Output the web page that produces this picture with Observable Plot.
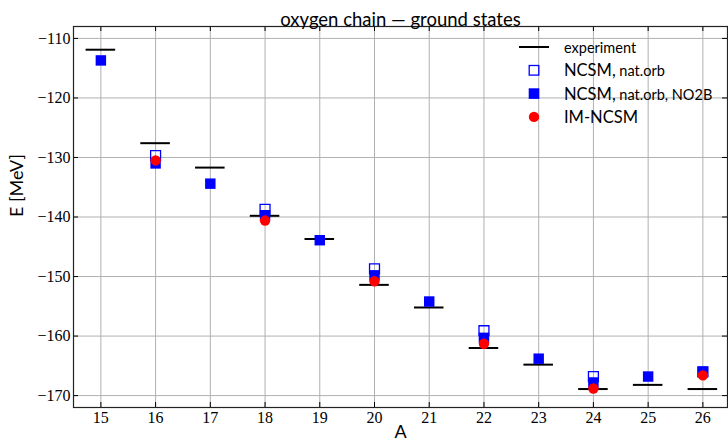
<!DOCTYPE html>
<html>
<head>
<meta charset="utf-8">
<script src="https://cdn.jsdelivr.net/npm/d3@7"></script>
<script src="https://cdn.jsdelivr.net/npm/@observablehq/plot@0.6"></script>
<style>
  html, body { margin: 0; padding: 0; background: #fff; }
  #wrap { position: relative; width: 728px; height: 445px; }
  #legend { position: absolute; left: 0; top: 0; pointer-events: none; }
</style>
</head>
<body>
<div id="wrap"></div>
<script>
// ---- data ----
const massNumbers = [15, 16, 17, 18, 19, 20, 21, 22, 23, 24, 25, 26];
const experiment = [-111.9, -127.6, -131.7, -139.8, -143.7, -151.4, -155.2, -162.0, -164.8, -168.9, -168.2, -168.9];
const ncsmNatA = [16, 18, 20, 22, 24, 26];
const ncsmNat = [-129.7, -138.7, -148.7, -159.1, -166.8, -166.0];
const ncsmNo2b = [-113.7, -131.0, -134.4, -139.7, -143.9, -149.8, -154.2, -160.3, -163.8, -167.8, -166.8, -166.0];
const imA = [16, 18, 20, 22, 24, 26];
const imNcsm = [-130.5, -140.6, -150.8, -161.3, -168.8, -166.6];
const xTicks = [15, 16, 17, 18, 19, 20, 21, 22, 23, 24, 25, 26];
const yTicks = [-110, -120, -130, -140, -150, -160, -170];
const titleText = "oxygen chain — ground states";
const xLabel = "A";
const yLabel = "E [MeV]";
const legendItems = [
  {kind: "line", main: "experiment", small: ""},
  {kind: "open", main: "NCSM,", small: " nat.orb"},
  {kind: "filled", main: "NCSM,", small: " nat.orb, NO2B"},
  {kind: "circle", main: "IM-NCSM", small: ""}
];

const expData = massNumbers.map((A, i) => ({A, E: experiment[i]}));
const natData = ncsmNatA.map((A, i) => ({A, E: ncsmNat[i]}));
const no2bData = massNumbers.map((A, i) => ({A, E: ncsmNo2b[i]}));
const imData = imA.map((A, i) => ({A, E: imNcsm[i]}));

const W = 728, H = 445;
const mL = 73, mR = 1, mT = 26, mB = 38;
const frameH = H - mT - mB, frameW = W - mL - mR;
const serif = "Liberation Serif";
const sans = "Lato";
const tick = 5;
const fmtX = d => String(d);
const fmtY = d => "\u2212" + Math.abs(d);

const chart = Plot.plot({
  width: W, height: H,
  marginLeft: mL, marginRight: mR, marginTop: mT, marginBottom: mB,
  style: {background: "#fff", overflow: "visible", fontSize: "15px"},
  x: {domain: [14.5, 26.45], axis: null},
  y: {domain: [-172, -108], axis: null},
  marks: [
    Plot.gridX(xTicks, {stroke: "#b0b0b0", strokeOpacity: 1, strokeWidth: 1}),
    Plot.gridY(yTicks, {stroke: "#b0b0b0", strokeOpacity: 1, strokeWidth: 1}),
    // inward ticks
    Plot.ruleX(xTicks, {insetTop: frameH - tick, stroke: "#000"}),
    Plot.ruleX(xTicks, {insetBottom: frameH - tick, stroke: "#000"}),
    Plot.ruleY(yTicks, {insetRight: frameW - tick, stroke: "#000"}),
    Plot.ruleY(yTicks, {insetLeft: frameW - tick, stroke: "#000"}),
    // tick labels (serif)
    Plot.text(xTicks, {x: d => d, text: fmtX, frameAnchor: "bottom", lineAnchor: "top", dy: 4, fontSize: 16, fontFamily: serif, fill: "#000"}),
    Plot.text(yTicks, {y: d => d, text: fmtY, frameAnchor: "left", textAnchor: "end", dx: -3, fontSize: 16, fontFamily: serif, fill: "#000"}),
    // data
    Plot.ruleY(expData, {x1: d => d.A - 0.27, x2: d => d.A + 0.27, y: "E", stroke: "#000", strokeWidth: 2}),
    Plot.dot(natData, {x: "A", y: "E", symbol: "square", r: 5.6, stroke: "#0000ff", strokeWidth: 1.3, fill: "none"}),
    Plot.dot(no2bData, {x: "A", y: "E", symbol: "square", r: 5.9, fill: "#0000ff", stroke: "none"}),
    Plot.dot(imData, {x: "A", y: "E", symbol: "circle", r: 5.2, fill: "#ff0000", stroke: "none"}),
    Plot.frame({stroke: "#222", strokeWidth: 1.2}),
    // texts
    Plot.text([titleText], {frameAnchor: "top", dy: -14, fontSize: 18.5, fontFamily: sans, fill: "#000"}),
    Plot.text([xLabel], {frameAnchor: "bottom", dy: 30, fontSize: 18, fontFamily: sans, fill: "#000"}),
    Plot.text([yLabel], {frameAnchor: "left", dx: -56, rotate: -90, fontSize: 18, fontFamily: sans, fill: "#000"})
  ]
});
document.getElementById("wrap").appendChild(chart);

// legend overlay (inside the plot area, top right)
const ns = "http://www.w3.org/2000/svg";
const leg = document.createElementNS(ns, "svg");
leg.setAttribute("id", "legend");
leg.setAttribute("width", W);
leg.setAttribute("height", H);
const lx = 534, ly0 = 47, dyL = 23.3, tx = 564;
legendItems.forEach((it, i) => {
  const y = ly0 + i * dyL;
  let el;
  if (it.kind === "line") {
    el = document.createElementNS(ns, "line");
    el.setAttribute("x1", lx - 15); el.setAttribute("x2", lx + 15);
    el.setAttribute("y1", y); el.setAttribute("y2", y);
    el.setAttribute("stroke", "#000"); el.setAttribute("stroke-width", 2);
  } else if (it.kind === "open") {
    el = document.createElementNS(ns, "rect");
    el.setAttribute("x", lx - 4.8); el.setAttribute("y", y - 4.8);
    el.setAttribute("width", 9.6); el.setAttribute("height", 9.6);
    el.setAttribute("fill", "none"); el.setAttribute("stroke", "#0000ff"); el.setAttribute("stroke-width", 1.3);
  } else if (it.kind === "filled") {
    el = document.createElementNS(ns, "rect");
    el.setAttribute("x", lx - 5.3); el.setAttribute("y", y - 5.3);
    el.setAttribute("width", 10.6); el.setAttribute("height", 10.6);
    el.setAttribute("fill", "#0000ff");
  } else {
    el = document.createElementNS(ns, "circle");
    el.setAttribute("cx", lx); el.setAttribute("cy", y); el.setAttribute("r", 5.2);
    el.setAttribute("fill", "#ff0000");
  }
  leg.appendChild(el);
  const t = document.createElementNS(ns, "text");
  t.setAttribute("x", tx); t.setAttribute("y", y);
  t.setAttribute("dominant-baseline", "central");
  t.setAttribute("font-family", sans);
  t.setAttribute("fill", "#000");
  const s1 = document.createElementNS(ns, "tspan");
  s1.setAttribute("font-size", it.kind === "line" ? 14.5 : 16.5);
  s1.textContent = it.main;
  t.appendChild(s1);
  if (it.small) {
    const s2 = document.createElementNS(ns, "tspan");
    s2.setAttribute("font-size", 14.5);
    s2.textContent = it.small;
    t.appendChild(s2);
  }
  leg.appendChild(t);
});
document.getElementById("wrap").appendChild(leg);
</script>
</body>
</html>
